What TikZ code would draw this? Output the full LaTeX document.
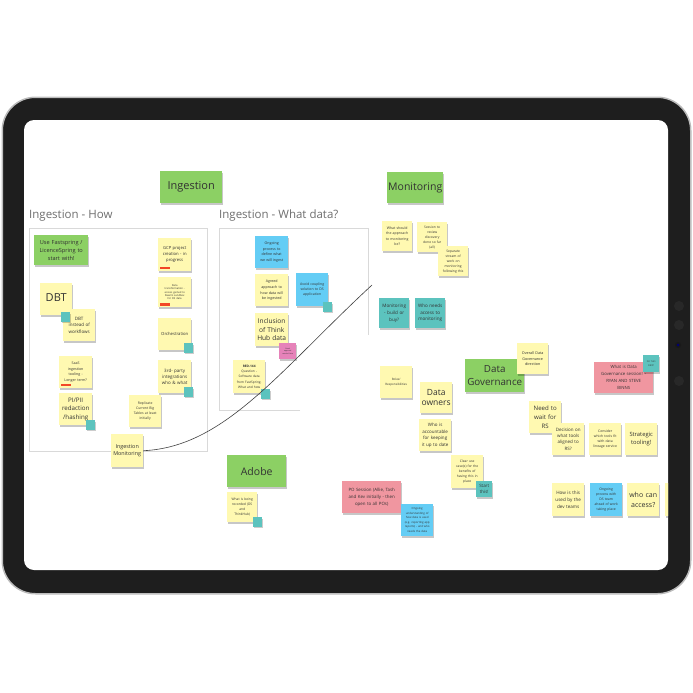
\documentclass[tikz,border=0pt]{standalone}
\usepackage{fontspec}
\setmainfont{Open Sans}
\usetikzlibrary{shadows}
\definecolor{ny}{RGB}{255,249,177}
\definecolor{ng}{RGB}{140,208,100}
\definecolor{nt}{RGB}{92,195,190}
\definecolor{nb}{RGB}{100,205,245}
\definecolor{np}{RGB}{240,150,160}
\definecolor{nm}{RGB}{230,130,185}
\definecolor{nr}{RGB}{242,71,38}
\definecolor{txt}{RGB}{50,50,50}
\definecolor{hdr}{RGB}{110,110,110}
\definecolor{body}{RGB}{30,30,30}
\definecolor{silver}{RGB}{190,190,190}
\definecolor{btn}{RGB}{40,40,40}
\newcommand\fsz[2]{\fontsize{#1}{#2}\selectfont}
\tikzset{
  note/.style={rectangle, anchor=north west, inner sep=0.5pt, align=center, text=txt,
    drop shadow={shadow xshift=0.4pt, shadow yshift=-2.2pt, opacity=0.22, fill=black}},
  yel/.style={note, fill=ny},
  grn/.style={note, fill=ng},
  tea/.style={note, fill=nt},
  blu/.style={note, fill=nb},
  pnk/.style={note, fill=np},
  mag/.style={note, fill=nm},
  sz/.style 2 args={minimum width=#1pt, minimum height=#2pt, text width=#1pt-2pt},
  sq/.style={rectangle, anchor=north west, fill=nt, minimum width=9pt, minimum height=9.5pt, inner sep=0pt,
    drop shadow={shadow xshift=0.3pt, shadow yshift=-1.5pt, opacity=0.2, fill=black}},
  redbar/.style={rectangle, anchor=north west, fill=nr, minimum width=10pt, minimum height=2.5pt, inner sep=0pt},
  hdrtext/.style={anchor=west, inner sep=0pt, text=hdr, font=\fsz{11.5}{13}},
  framebox/.style={draw=black!15, line width=0.7pt},
}
\begin{document}
\begin{tikzpicture}[x=1pt, y=-1pt]
\useasboundingbox (0,0) rectangle (693,693);
% tablet
\fill[silver, rounded corners=34pt] (1.5,96.5) rectangle (691.5,594.5);
\filldraw[fill=body, draw=silver, line width=1pt, rounded corners=33pt] (2.5,97.5) rectangle (690.5,593.5);
\fill[white, rounded corners=10pt] (24,120) rectangle (668,570);
\fill[btn] (679,306) circle (5pt);
\fill[btn] (679,325) circle (5pt);
\fill[btn] (679,381) circle (5pt);
\fill[black!90] (678,345) circle (3pt);
\fill[blue!45!black] (678,345) circle (1.5pt);

\begin{scope}
\clip[rounded corners=10pt] (24,120) rectangle (668,570);

% frames and headers
\draw[framebox] (29,228) rectangle (207,451);
\draw[framebox] (300,410) -- (219,410) -- (219,228) -- (368,228) -- (368,335);
\node[hdrtext] (h1) at (29,216) {Ingestion - How};
\node[hdrtext] (h2) at (219,216) {Ingestion - What data?};

% green titles
\node[grn, sz={62}{32}, font=\fsz{11}{13}] (tIng) at (160,171) {Ingestion};
\node[grn, sz={56}{31}, font=\fsz{10.5}{12}] (tMon) at (387,172) {Monitoring};
\node[grn, sz={59}{33}, font=\fsz{9.8}{12.6}] (tDG) at (465,359) {Data\\Governance};
\node[grn, sz={59}{32}, font=\fsz{10.5}{12}] (tAd) at (227,455) {Adobe};

% Ingestion - How
\node[grn, sz={54}{30}, font=\fsz{5.6}{8}] (n1) at (34,235) {Use Fastspring /\\LicenceSpring to\\start with!};
\node[yel, sz={33}{33}, font=\fsz{4.2}{6.2}] (n2) at (158,238) {GCP project\\creation - in\\progress};
\node[redbar] (r2) at (160,266.5) {};
\node[yel, sz={33}{30}, font=\fsz{2.6}{3.4}] (n3) at (158,277) {Data\\transformation -\\access gained to\\Dawn's sandbox\\for DS data};
\node[redbar] (r3) at (160,303) {};
\node[yel, sz={32}{32}, font=\fsz{11}{13}, text depth=3pt] (n4) at (40,283) {DBT};
\node[yel, sz={32}{32}, font=\fsz{4.5}{6.7}] (n5) at (63,309) {DBT\\instead of\\workflows};
\node[sq] (s4) at (61,312) {};
\node[yel, sz={33}{32}, font=\fsz{4.2}{6}] (n6) at (158,318) {Orchestration};
\node[sq] (s6) at (184,343) {};
\node[yel, sz={33}{32}, font=\fsz{3.6}{5.8}] (n7) at (59,356) {SaaS\\ingestion\\tooling -\\Longer term?};
\node[redbar] (r7) at (61,383.5) {};
\node[yel, sz={33}{33}, font=\fsz{4.5}{6.3}] (n8) at (158,360) {3rd- party\\integrations\\who \& what};
\node[sq] (s8) at (184,387) {};
\node[yel, sz={33}{32}, font=\fsz{6.2}{8.6}] (n9) at (59,393) {PI/PII\\redaction\\/hashing};
\node[sq] (s9) at (86,420) {};
\node[yel, sz={32}{32}, font=\fsz{3.4}{5.2}] (n10) at (129,395) {Replicate\\Current Big\\Tables at least\\initially};
\node[yel, sz={32}{33}, font=\fsz{5.4}{7.3}] (im) at (111,434) {Ingestion\\Monitoring};

% Ingestion - What data?
\node[blu, sz={33}{32}, font=\fsz{3.6}{5.7}] (n12) at (255,236) {Ongoing\\process to\\define what\\we will ingest};
\node[yel, sz={33}{32}, font=\fsz{3.6}{5.8}] (n13) at (255,274) {Agreed\\approach to\\how data will\\be ingested};
\node[blu, sz={32}{33}, font=\fsz{3.5}{5.3}] (n14) at (296,273) {Avoid coupling\\solution to DS\\application};
\node[sq] (s14) at (323,302) {};
\node[yel, sz={33}{33}, font=\fsz{6.6}{8.2}] (n15) at (255,313) {Inclusion\\of Think\\Hub data};
\node[mag, sz={17}{16}, font=\fsz{1.8}{2.6}] (n16) at (279,343) {Need\\approval\\needed here};
\node[yel, sz={32}{33}, font=\fsz{3.2}{5.2}] (n17) at (233,360) {\textbf{RED-144}\\Question -\\Software data\\from FastSpring.\\What and how};
\node[sq] (s17) at (261,389) {};

% Monitoring
\node[yel, sz={30}{30}, font=\fsz{3.5}{5.3}] (n18) at (382,221) {What should\\the approach\\to monitoring\\be?};
\node[yel, sz={30}{30}, font=\fsz{3.3}{5}] (n19) at (417,222) {Session to\\review\\discovery\\done so far\\(all)};
\node[yel, sz={30}{30}, font=\fsz{3.3}{5}] (n20) at (438,246) {Separate\\stream of\\work on\\monitoring\\following this};
\node[tea, sz={30}{30}, font=\fsz{4.6}{7}] (n21) at (379,298) {Monitoring\\- build or\\buy?};
\node[tea, sz={30}{30}, font=\fsz{4.6}{6.6}] (n22) at (415,298) {Who needs\\access to\\monitoring};

% Data governance
\node[yel, sz={32}{32}, font=\fsz{3}{4.5}] (n23) at (380,366) {Roles/\\Responsibilities};
\node[yel, sz={32}{31}, font=\fsz{8.5}{10.5}] (n24) at (420,382) {Data\\owners};
\node[yel, sz={31}{31}, font=\fsz{3.7}{5.8}] (n26) at (517,343) {Overall Data\\Governance\\direction};
\node[yel, sz={32}{32}, font=\fsz{4.5}{6.5}] (n27) at (419,419) {Who is\\accountable\\for keeping\\it up to date};
\node[yel, sz={32}{33}, font=\fsz{3.3}{5.2}] (n28) at (451,455) {Clear use\\case(s) for the\\benefits of\\having this in\\place};
\node[tea, sz={16}{16}, font=\fsz{4.4}{6.2}] (n29) at (476,481) {Start\\this!};
\node[yel, sz={32}{32}, font=\fsz{6.1}{8.8}] (n30) at (529,401) {Need to\\wait for\\RS};
\node[yel, sz={32}{32}, font=\fsz{4.5}{6.3}] (n31) at (552,423) {Decision on\\what tools\\aligned to\\RS?};
\node[yel, sz={32}{32}, font=\fsz{3.4}{5.1}] (n32) at (589,423) {Consider\\which tools fit\\with data\\lineage service};
\node[yel, sz={32}{32}, font=\fsz{5.8}{8.5}] (n33) at (625,423) {Strategic\\tooling!};
\node[pnk, sz={59}{31}, font=\fsz{4.3}{7}] (n34) at (594,362) {What is Data\\Governance session! -\\RYAN AND STEVE\\BINNS};
\node[tea, sz={16}{17}, font=\fsz{2.2}{3.4}] (n35) at (643,355) {DO THIS\\FIRST!};

% bottom
\node[pnk, sz={59}{32}, font=\fsz{4.4}{6.7}] (n36) at (342,481) {PO Session (Allie, Tash\\and Kev initially - then\\open to all POs)};
\node[blu, sz={32}{32}, font=\fsz{2.8}{4.5}] (n37) at (401,504) {Ongoing\\understanding of\\how data is used\\(e.g. reporting app\\reports) - and who\\needs the data};
\node[yel, sz={32}{33}, font=\fsz{4.6}{7}] (n38) at (552,483) {How is this\\used by the\\dev teams};
\node[blu, sz={32}{33}, font=\fsz{3.4}{5}] (n39) at (590,483) {Ongoing\\process with\\DS team\\ahead of work\\taking place};
\node[yel, sz={32}{33}, font=\fsz{7}{9.4}] (n40) at (627,483) {who can\\access?};
\node[yel, sz={32}{33}] (n41) at (665,483) {};

% Adobe
\node[yel, sz={30}{30}, font=\fsz{3.3}{5.2}] (n42) at (227,492) {What is being\\recorded (DS\\and\\ThinkHub)};
\node[sq] (s42) at (253,517) {};

% connector
\coordinate (cend) at (372,285);
\draw[black!75, line width=0.6pt] (im.east) .. controls (225,447) and (280,370) .. (cend);
\end{scope}
\end{tikzpicture}
\end{document}
